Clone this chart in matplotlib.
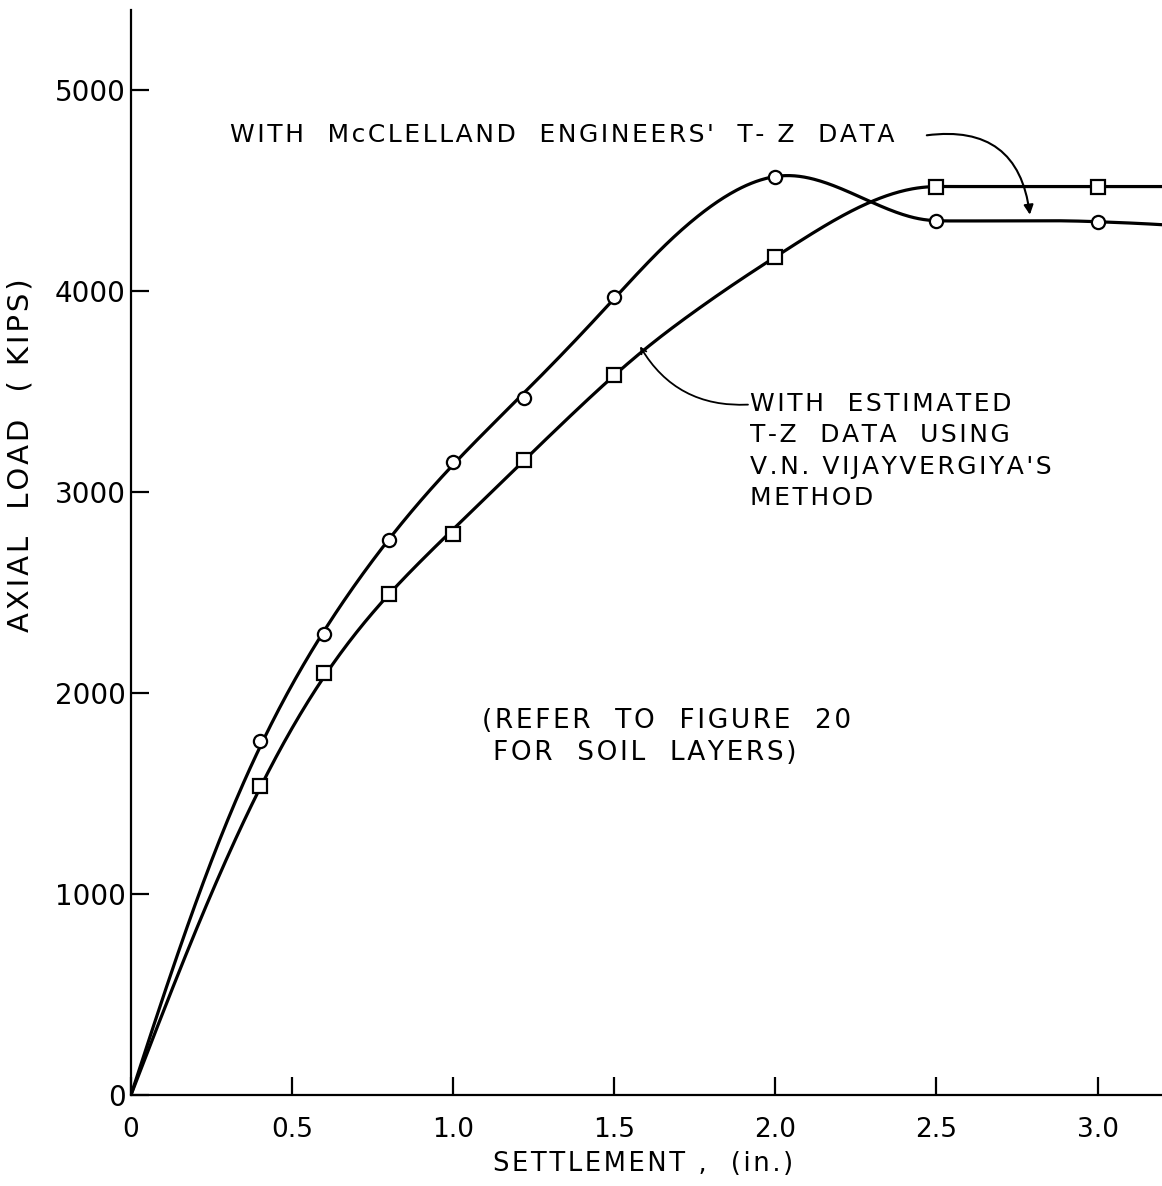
import numpy as np
import matplotlib
matplotlib.use("Agg")
import matplotlib.pyplot as plt

# values
mcc_x = [0, 0.4, 0.6, 0.8, 1.0, 1.22, 1.5, 2.0, 2.5, 3.0]
mcc_y = [0, 1760, 2295, 2760, 3150, 3470, 3970, 4570, 4350, 4345]
est_x = [0, 0.4, 0.6, 0.8, 1.0, 1.22, 1.5, 2.0, 2.5, 3.0]
est_y = [0, 1540, 2100, 2495, 2790, 3160, 3580, 4170, 4520, 4520]

# where each curve leaves the right edge of the plot
edge_x = 3.2
mcc_edge_y = 4330
est_edge_y = 4520

x_ticks = [0, 0.5, 1.0, 1.5, 2.0, 2.5, 3.0]
x_tick_labels = ["0", "0.5", "1.0", "1.5", "2.0", "2.5", "3.0"]
y_ticks = [0, 1000, 2000, 3000, 4000, 5000]
y_tick_labels = ["0", "1000", "2000", "3000", "4000", "5000"]


def akima(x, y, xs):
    # Akima spline: smooth, but stays flat where the data go flat
    x = np.asarray(x, float)
    y = np.asarray(y, float)
    h = np.diff(x)
    m = np.diff(y) / h
    mm = np.concatenate([[3 * m[0] - 2 * m[1], 2 * m[0] - m[1]], m,
                         [2 * m[-1] - m[-2], 3 * m[-1] - 2 * m[-2]]])
    t = np.zeros(len(x))
    for i in range(len(x)):
        a, b, c, d = mm[i], mm[i + 1], mm[i + 2], mm[i + 3]
        w1 = abs(d - c)
        w2 = abs(b - a)
        t[i] = (b + c) / 2 if w1 + w2 == 0 else (w1 * b + w2 * c) / (w1 + w2)
    idx = np.clip(np.searchsorted(x, xs) - 1, 0, len(h) - 1)
    s = (xs - x[idx]) / h[idx]
    h00 = 2 * s**3 - 3 * s**2 + 1
    h10 = s**3 - 2 * s**2 + s
    h01 = -2 * s**3 + 3 * s**2
    h11 = s**3 - s**2
    return (h00 * y[idx] + h10 * h[idx] * t[idx]
            + h01 * y[idx + 1] + h11 * h[idx] * t[idx + 1])


def faired(x, y, xs):
    # fair the rising part like a french curve; ease off toward the peak
    f = akima(x, y, xs)
    n = len(xs)
    D = np.diff(np.eye(n), 2, axis=0)
    u = np.clip((xs[1:-1] - 1.2) / 0.8, 0, 1)
    u = u * u * (3 - 2 * u)
    lam = 10 ** (5.8 - 3.3 * u)
    w = np.ones(n)
    w[0] = 1e4  # keep the origin pinned
    return np.linalg.solve(np.diag(w) + D.T @ (lam[:, None] * D), w * f)


def spaced(s):
    # hand lettering on the original is widely spaced
    return "\u200a".join(s)


plt.rcParams["font.family"] = "DejaVu Sans"

fig = plt.figure(figsize=(11.62, 11.86), dpi=100)
ax = fig.add_axes([0.1127, 0.0767, 0.8873, 0.9148])

xs = np.linspace(0, edge_x, 641)
mcc_curve = faired(mcc_x + [edge_x], mcc_y + [mcc_edge_y], xs)
est_curve = faired(est_x + [edge_x], est_y + [est_edge_y], xs)
ax.plot(xs, mcc_curve, color="black", lw=2.3, solid_capstyle="round")
ax.plot(xs, est_curve, color="black", lw=2.3, solid_capstyle="round")

ax.plot(mcc_x[1:], mcc_y[1:], "o", ms=9.5, mfc="white", mec="black", mew=1.6)
ax.plot(est_x[1:], est_y[1:], "s", ms=9.5, mfc="white", mec="black", mew=1.6)

ax.set_xlim(0, edge_x)
ax.set_ylim(0, 5398)

for side in ["top", "right"]:
    ax.spines[side].set_visible(False)
ax.spines["left"].set_linewidth(1.6)
ax.spines["bottom"].set_linewidth(1.6)

ax.set_xticks(x_ticks)
ax.set_xticklabels(x_tick_labels)
ax.set_yticks(y_ticks)
ax.set_yticklabels(y_tick_labels)
ax.tick_params(axis="x", direction="in", length=13, width=1.6, pad=16, labelsize=19)
ax.tick_params(axis="y", direction="in", length=13, width=1.6, pad=4, labelsize=20)

ax.set_xlabel(spaced("SETTLEMENT ,  (in.)"), fontsize=18.5)
ax.xaxis.set_label_coords(0.497, -0.052)
ax.set_ylabel(spaced("AXIAL  LOAD  ( KIPS)"), fontsize=21)
ax.yaxis.set_label_coords(-0.094, 0.59)

# annotations
ax.text(0.307, 4775, spaced("WITH  McCLELLAND  ENGINEERS'  T- Z  DATA"),
        fontsize=18, va="center", ha="left")
ax.annotate("", xy=(2.79, 4380), xytext=(2.47, 4775),
            arrowprops=dict(arrowstyle="-|>", color="black", lw=1.5,
                            mutation_scale=14, shrinkA=0, shrinkB=0,
                            connectionstyle="arc3,rad=-0.5"))

est_label = "\n".join(spaced(s) for s in
                      ["WITH  ESTIMATED", "T-Z  DATA  USING",
                       "V.N. VIJAYVERGIYA'S", "METHOD"])
ax.text(1.922, 3500, est_label, fontsize=18, va="top", ha="left",
        linespacing=1.4)
ax.annotate("", xy=(1.58, 3725), xytext=(1.915, 3435),
            arrowprops=dict(arrowstyle="->", color="black", lw=1.3,
                            mutation_scale=10, shrinkA=0, shrinkB=0,
                            connectionstyle="arc3,rad=-0.3"))

refer_label = "\n".join(spaced(s) for s in
                        ["(REFER  TO  FIGURE  20", " FOR  SOIL  LAYERS)"])
ax.text(1.09, 1925, refer_label, fontsize=19, va="top", ha="left",
        linespacing=1.3)

fig.savefig("out.png", dpi=100)
